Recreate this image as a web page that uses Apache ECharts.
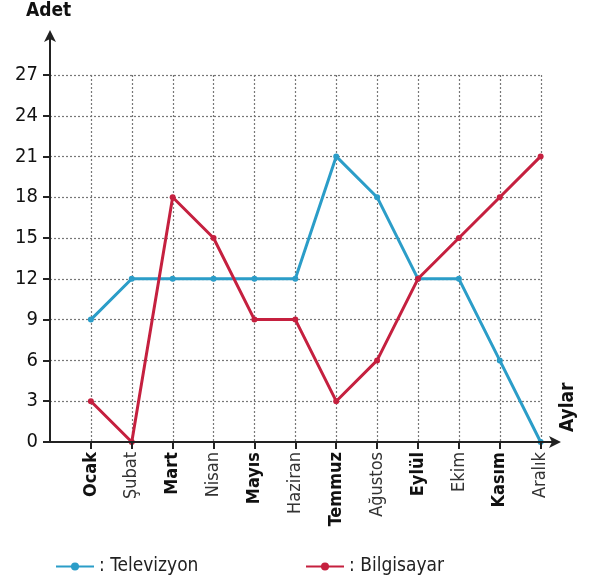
<!DOCTYPE html>
<html>
<head>
<meta charset="utf-8">
<script src="https://cdn.jsdelivr.net/npm/echarts@6/dist/echarts.min.js"></script>
<style>
  html,body{margin:0;padding:0;background:#fff;}
  #chart{width:591px;height:585px;}
</style>
</head>
<body>
<div id="chart"></div>
<script>
var months = ['Ocak','Şubat','Mart','Nisan','Mayıs','Haziran','Temmuz','Ağustos','Eylül','Ekim','Kasım','Aralık']
var televizyon = [9,12,12,12,12,12,21,18,12,12,6,0]
var bilgisayar = [3,0,18,15,9,9,3,6,12,15,18,21]
var yTicks = [0,3,6,9,12,15,18,21,24,27]

var font = "'Liberation Sans Narrow','DejaVu Sans Condensed',sans-serif"
var monthIdx = months.map(function(m,i){return i})
var gridLine = {show:true,showMinLine:false,lineStyle:{color:'#777',type:[2,2],width:1.2}}

function pairs(arr){
  return arr.map(function(v,i){return [i,v]})
}

var chart = echarts.init(document.getElementById('chart'))
var option = {
  animation:false,
  grid:[
    // axes with arrows
    {left:50,right:34,top:34,bottom:143},
    // dotted grid box, ends at Aralık and 27
    {left:50,right:50,top:75,bottom:143}
  ],
  legend:[
    {
      data:['Televizyon'],left:50,top:552,
      itemWidth:38,itemHeight:10,
      formatter:': {name}',
      textStyle:{fontFamily:font,fontSize:19,color:'#222'}
    },
    {
      data:['Bilgisayar'],left:300,top:552,
      itemWidth:38,itemHeight:10,
      formatter:': {name}',
      textStyle:{fontFamily:font,fontSize:19,color:'#222'}
    }
  ],
  graphic:[
    {type:'text',left:26,top:2,style:{text:'Adet',font:'bold 19px '+font,fill:'#111'}},
    {type:'text',x:568,y:432,rotation:Math.PI/2,
     style:{text:'Aylar',font:'bold 19px '+font,fill:'#111',align:'left',verticalAlign:'middle'}}
  ],
  xAxis:[
    {
      type:'value',
      gridIndex:0,
      min:-1,
      max:11.4,
      interval:1,
      axisLine:{show:true,onZero:false,lineStyle:{color:'#222',width:2},symbol:['none','arrow'],symbolSize:[9,12],symbolOffset:[0,4]},
      axisTick:{show:true,customValues:monthIdx,length:7,lineStyle:{color:'#222',width:2}},
      axisLabel:{
        customValues:monthIdx,
        rotate:90,
        margin:10,
        fontFamily:font,
        fontSize:18,
        color:'#222',
        formatter:function(v){
          var i = Math.round(v)
          if(i<0||i>11) return ''
          return i%2==0 ? '{b|'+months[i]+'}' : '{n|'+months[i]+'}'
        },
        rich:{
          b:{fontFamily:font,fontSize:18,fontWeight:'bold',color:'#111'},
          n:{fontFamily:font,fontSize:18,color:'#333'}
        }
      },
      splitLine:{show:false},
      z:5
    },
    {
      type:'value',
      gridIndex:1,
      min:-1,
      max:11,
      interval:1,
      axisLine:{show:false},
      axisTick:{show:false},
      axisLabel:{show:false},
      splitLine:gridLine
    }
  ],
  yAxis:[
    {
      type:'value',
      gridIndex:0,
      min:0,
      max:30,
      interval:3,
      axisLine:{show:true,onZero:false,lineStyle:{color:'#222',width:2},symbol:['none','arrow'],symbolSize:[9,12],symbolOffset:[0,4]},
      axisTick:{show:true,customValues:yTicks,length:7,lineStyle:{color:'#222',width:2}},
      axisLabel:{
        customValues:yTicks,
        margin:12,
        fontFamily:font,
        fontSize:20,
        color:'#111',
        formatter:function(v){return v<=27 ? String(v) : ''}
      },
      splitLine:{show:false},
      z:5
    },
    {
      type:'value',
      gridIndex:1,
      min:0,
      max:27,
      interval:3,
      axisLine:{show:false},
      axisTick:{show:false},
      axisLabel:{show:false},
      splitLine:gridLine
    }
  ],
  series:[
    {
      name:'Televizyon',
      type:'line',
      xAxisIndex:0,
      yAxisIndex:0,
      data:pairs(televizyon),
      symbol:'circle',
      symbolSize:6,
      itemStyle:{color:'#2b9dc8'},
      lineStyle:{color:'#2b9dc8',width:3},
      z:3
    },
    {
      name:'Bilgisayar',
      type:'line',
      xAxisIndex:0,
      yAxisIndex:0,
      data:pairs(bilgisayar),
      symbol:'circle',
      symbolSize:6,
      itemStyle:{color:'#c5203f'},
      lineStyle:{color:'#c5203f',width:3},
      z:4
    }
  ]
}
chart.setOption(option)
window.addEventListener('resize',()=>{
  chart.resize()
})
</script>
</body>
</html>
